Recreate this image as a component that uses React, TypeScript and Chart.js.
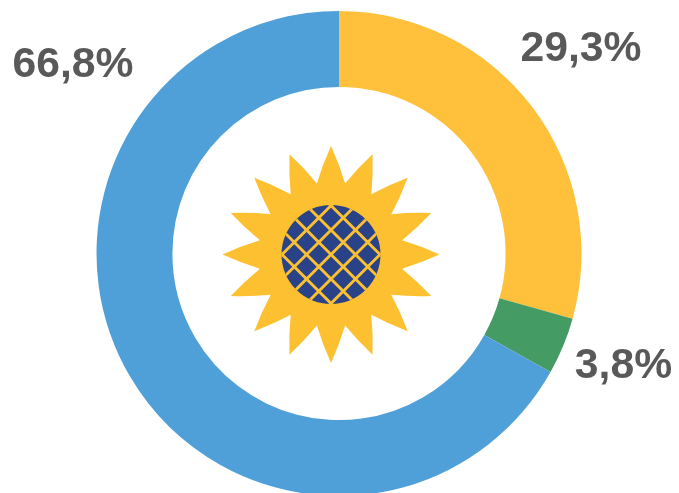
import React, { useEffect, useRef } from "react";
import { Chart, registerables } from "chart.js";

Chart.register(...registerables);

const categories = ["Amarelo", "Verde", "Azul"];
const values = [29.3, 3.8, 66.8];
const sliceColors = ["#FFC13B", "#459B64", "#4F9FD8"];
const valueLabels = ["29,3%", "3,8%", "66,8%"];
const labelOffsetX = [242, 284.5, -266];
const labelOffsetY = [-204, 113, -188];

const labelPlugin = {
  id: "valueLabels",
  afterDraw(chart: any) {
    const arc = chart.getDatasetMeta(0).data[0];
    const { ctx } = chart;
    ctx.save();
    ctx.font = "bold 42.7px 'Liberation Sans', Arial, sans-serif";
    ctx.fillStyle = "#595959";
    ctx.textAlign = "center";
    ctx.textBaseline = "middle";
    valueLabels.forEach((t, i) => {
      ctx.fillText(t, arc.x + labelOffsetX[i], arc.y + labelOffsetY[i]);
    });
    ctx.restore();
  },
};

const sunflowerPlugin = {
  id: "sunflower",
  afterDraw(chart: any) {
    const arc = chart.getDatasetMeta(0).data[0];
    const { ctx } = chart;
    const cx = arc.x - 8;
    const cy = arc.y + 1;
    const petals = 16;
    const tipR = 108.5;
    const valleyR = 72.5;
    const bulge = 1.5;
    const step = (Math.PI * 2) / petals;
    const pt = (r: number, a: number) => [cx + r * Math.sin(a), cy - r * Math.cos(a)];
    const ctrl = (v: number[], tip: number[], a: number) => {
      const mx = (v[0] + tip[0]) / 2;
      const my = (v[1] + tip[1]) / 2;
      const axis = pt((valleyR + tipR) / 2, a);
      const ux = mx - axis[0];
      const uy = my - axis[1];
      const n = Math.hypot(ux, uy) || 1;
      return [mx + (ux / n) * bulge, my + (uy / n) * bulge];
    };
    ctx.save();
    ctx.fillStyle = "#FDC030";
    ctx.beginPath();
    for (let i = 0; i < petals; i++) {
      const a = i * step;
      const v0 = pt(valleyR, a - step / 2);
      const tip = pt(tipR, a);
      const v1 = pt(valleyR, a + step / 2);
      const c0 = ctrl(v0, tip, a);
      const c1 = ctrl(v1, tip, a);
      if (i === 0) ctx.moveTo(v0[0], v0[1]);
      ctx.quadraticCurveTo(c0[0], c0[1], tip[0], tip[1]);
      ctx.quadraticCurveTo(c1[0], c1[1], v1[0], v1[1]);
    }
    ctx.closePath();
    ctx.fill();

    const discR = 49.5;
    ctx.beginPath();
    ctx.arc(cx, cy, discR, 0, Math.PI * 2);
    ctx.fillStyle = "#2A4388";
    ctx.fill();
    ctx.clip();
    ctx.strokeStyle = "#FDC030";
    ctx.lineWidth = 2.9;
    const spacing = 17.3;
    const L = 80;
    for (let k = -4; k <= 4; k++) {
      [Math.PI / 4, (3 * Math.PI) / 4].forEach((ang) => {
        const dx = Math.cos(ang);
        const dy = Math.sin(ang);
        const ox = cx - dy * k * spacing;
        const oy = cy + dx * k * spacing;
        ctx.beginPath();
        ctx.moveTo(ox - dx * L, oy - dy * L);
        ctx.lineTo(ox + dx * L, oy + dy * L);
        ctx.stroke();
      });
    }
    ctx.restore();
  },
};

export default function App() {
  const ref = useRef<HTMLCanvasElement | null>(null);
  useEffect(() => {
    document.body.style.margin = "0";
    document.documentElement.style.overflow = "hidden";
    const chart = new Chart(ref.current!, {
      type: "doughnut",
      data: {
        labels: categories,
        datasets: [{ data: values, backgroundColor: sliceColors, borderWidth: 0 }],
      },
      options: {
        animation: false,
        responsive: false,
        cutout: "68.7%",
        layout: { padding: { top: 11, bottom: 14, left: 0, right: 1 } },
        plugins: { legend: { display: false }, tooltip: { enabled: false } },
      },
      plugins: [sunflowerPlugin, labelPlugin],
    });
    return () => chart.destroy();
  }, []);
  return (
    <div style={{ width: 679, height: 493, overflow: "hidden", background: "#fff" }}>
      <canvas ref={ref} width={679} height={510} style={{ display: "block" }} />
    </div>
  );
}
